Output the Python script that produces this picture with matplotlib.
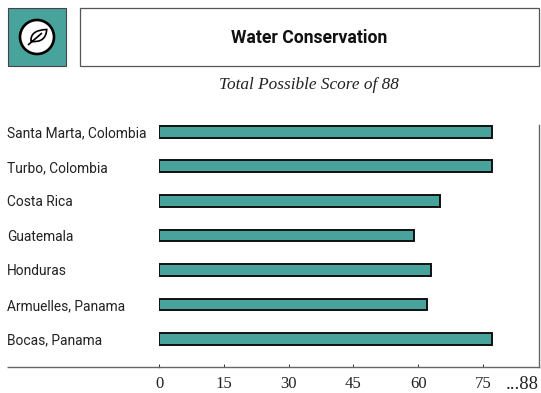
#!/usr/bin/env python3
"""
Water conservation scores by growing region, horizontal bars with a header
"""

import matplotlib
matplotlib.use("Agg")
import matplotlib.pyplot as plt
from matplotlib.patches import Circle, PathPatch, Rectangle
from matplotlib.path import Path

regions = ["Santa Marta, Colombia", "Turbo, Colombia", "Costa Rica", "Guatemala",
           "Honduras", "Armuelles, Panama", "Bocas, Panama"]
scores = [77, 77, 65, 59, 63, 62, 77]
tick_values = [0, 15, 30, 45, 60, 75, 88]
tick_labels = ["0", "15", "30", "45", "60", "75", "...88"]

TEAL = "#48A39D"
W, H = 541, 393
SANS = "Roboto"
SERIF = "Liberation Serif"

fig = plt.figure(figsize=(W / 100, H / 100), dpi=100, facecolor="white")

# full-figure overlay in pixel coordinates for the header and the icon
bg = fig.add_axes([0, 0, 1, 1])
bg.set_xlim(0, W)
bg.set_ylim(H, 0)
bg.axis("off")

bg.add_patch(Rectangle((8, 8), 58, 58, facecolor=TEAL, edgecolor="#444444", linewidth=0.8))
bg.add_patch(Rectangle((80, 8), 459, 58, facecolor="white", edgecolor="#555555", linewidth=0.9))

# leaf badge
bg.add_patch(Circle((37, 37), 17, facecolor="white", edgecolor="black", linewidth=1.9))
leaf = Path(
    [(31, 41.5), (30, 30), (46.7, 29.5), (46, 43), (31, 41.5), (28, 45), (42, 33)],
    [Path.MOVETO, Path.CURVE3, Path.CURVE3, Path.CURVE3, Path.CURVE3,
     Path.MOVETO, Path.LINETO],
)
bg.add_patch(PathPatch(leaf, facecolor="none", edgecolor="black", linewidth=1.2))

bg.text(309, 38, "Water Conservation", ha="center", va="center", fontsize=12.7,
        fontweight="bold", family=SANS, color="#111111")
bg.text(309, 85, "Total Possible Score of 88", ha="center", va="center", fontsize=12.4,
        style="italic", family=SERIF, color="#222222")

# baseline carries on left of the zero mark
bg.plot([7, 160], [367, 367], color="#666666", linewidth=1.0, solid_capstyle="butt")

# chart area, 0 to 88 across
ax = fig.add_axes([159 / W, 1 - 367 / H, (539 - 159) / W, (367 - 125) / H])
ax.patch.set_alpha(0)
ax.set_xlim(0, 88)
ax.set_ylim(6.81, -0.2)

y_pos = list(range(len(regions)))
ax.barh(y_pos, scores, height=0.345, color=TEAL, edgecolor="#111111", linewidth=1.4)

ax.set_yticks(y_pos, regions, ha="left", va="center_baseline", fontsize=9.9,
              family=SANS, color="#222222")
ax.tick_params(axis="y", length=0, pad=109.4)

ax.set_xticks(tick_values, tick_labels, fontsize=12, family=SERIF, color="#222222")
ax.tick_params(axis="x", direction="in", length=2, width=0.7, color="#333333", pad=6.5)
ax.get_xticklabels()[-1].set_ha("right")
ax.get_xticklabels()[-1].set_fontsize(13.5)
ax.xaxis.get_major_ticks()[-1].tick1line.set_visible(False)

for side in ["top", "left"]:
    ax.spines[side].set_visible(False)
for side in ["right", "bottom"]:
    ax.spines[side].set_color("#666666")
    ax.spines[side].set_linewidth(1.0)

fig.savefig("out.png", dpi=100, facecolor="white")
